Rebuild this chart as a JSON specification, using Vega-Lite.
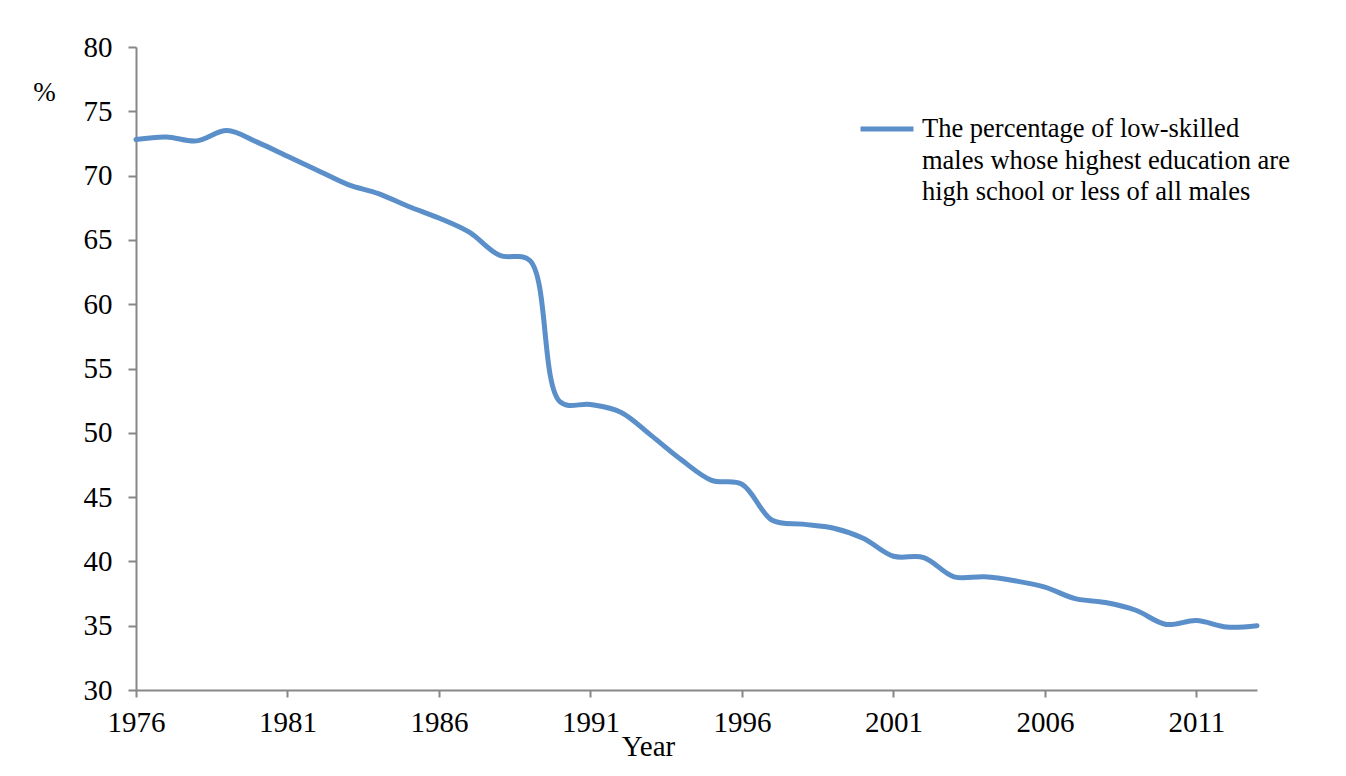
{
  "$schema": "https://vega.github.io/schema/vega-lite/v6.json",
  "autosize": {"type": "none"},
  "width": 1121,
  "height": 643,
  "padding": {"left": 136, "top": 47, "right": 89, "bottom": 86},
  "background": "white",
  "config": {
    "view": {"stroke": null},
    "font": "Liberation Serif",
    "style": {"guide-label": {"lineHeight": 31.5}}
  },
  "data": {
    "values": [
      {"year": 1976, "pct": 72.8, "series": "The percentage of low-skilled males whose highest education are high school or less of all males"},
      {"year": 1977, "pct": 73.0, "series": "The percentage of low-skilled males whose highest education are high school or less of all males"},
      {"year": 1978, "pct": 72.7, "series": "The percentage of low-skilled males whose highest education are high school or less of all males"},
      {"year": 1979, "pct": 73.5, "series": "The percentage of low-skilled males whose highest education are high school or less of all males"},
      {"year": 1980, "pct": 72.6, "series": "The percentage of low-skilled males whose highest education are high school or less of all males"},
      {"year": 1981, "pct": 71.5, "series": "The percentage of low-skilled males whose highest education are high school or less of all males"},
      {"year": 1982, "pct": 70.4, "series": "The percentage of low-skilled males whose highest education are high school or less of all males"},
      {"year": 1983, "pct": 69.3, "series": "The percentage of low-skilled males whose highest education are high school or less of all males"},
      {"year": 1984, "pct": 68.6, "series": "The percentage of low-skilled males whose highest education are high school or less of all males"},
      {"year": 1985, "pct": 67.6, "series": "The percentage of low-skilled males whose highest education are high school or less of all males"},
      {"year": 1986, "pct": 66.7, "series": "The percentage of low-skilled males whose highest education are high school or less of all males"},
      {"year": 1987, "pct": 65.6, "series": "The percentage of low-skilled males whose highest education are high school or less of all males"},
      {"year": 1988, "pct": 63.8, "series": "The percentage of low-skilled males whose highest education are high school or less of all males"},
      {"year": 1989, "pct": 63.4, "series": "The percentage of low-skilled males whose highest education are high school or less of all males"},
      {"year": 1990, "pct": 52.4, "series": "The percentage of low-skilled males whose highest education are high school or less of all males"},
      {"year": 1991, "pct": 52.2, "series": "The percentage of low-skilled males whose highest education are high school or less of all males"},
      {"year": 1992, "pct": 51.6, "series": "The percentage of low-skilled males whose highest education are high school or less of all males"},
      {"year": 1993, "pct": 49.8, "series": "The percentage of low-skilled males whose highest education are high school or less of all males"},
      {"year": 1994, "pct": 47.9, "series": "The percentage of low-skilled males whose highest education are high school or less of all males"},
      {"year": 1995, "pct": 46.3, "series": "The percentage of low-skilled males whose highest education are high school or less of all males"},
      {"year": 1996, "pct": 46.0, "series": "The percentage of low-skilled males whose highest education are high school or less of all males"},
      {"year": 1997, "pct": 43.2, "series": "The percentage of low-skilled males whose highest education are high school or less of all males"},
      {"year": 1998, "pct": 42.9, "series": "The percentage of low-skilled males whose highest education are high school or less of all males"},
      {"year": 1999, "pct": 42.6, "series": "The percentage of low-skilled males whose highest education are high school or less of all males"},
      {"year": 2000, "pct": 41.8, "series": "The percentage of low-skilled males whose highest education are high school or less of all males"},
      {"year": 2001, "pct": 40.4, "series": "The percentage of low-skilled males whose highest education are high school or less of all males"},
      {"year": 2002, "pct": 40.3, "series": "The percentage of low-skilled males whose highest education are high school or less of all males"},
      {"year": 2003, "pct": 38.8, "series": "The percentage of low-skilled males whose highest education are high school or less of all males"},
      {"year": 2004, "pct": 38.8, "series": "The percentage of low-skilled males whose highest education are high school or less of all males"},
      {"year": 2005, "pct": 38.5, "series": "The percentage of low-skilled males whose highest education are high school or less of all males"},
      {"year": 2006, "pct": 38.0, "series": "The percentage of low-skilled males whose highest education are high school or less of all males"},
      {"year": 2007, "pct": 37.1, "series": "The percentage of low-skilled males whose highest education are high school or less of all males"},
      {"year": 2008, "pct": 36.8, "series": "The percentage of low-skilled males whose highest education are high school or less of all males"},
      {"year": 2009, "pct": 36.2, "series": "The percentage of low-skilled males whose highest education are high school or less of all males"},
      {"year": 2010, "pct": 35.1, "series": "The percentage of low-skilled males whose highest education are high school or less of all males"},
      {"year": 2011, "pct": 35.4, "series": "The percentage of low-skilled males whose highest education are high school or less of all males"},
      {"year": 2012, "pct": 34.9, "series": "The percentage of low-skilled males whose highest education are high school or less of all males"},
      {"year": 2013, "pct": 35.0, "series": "The percentage of low-skilled males whose highest education are high school or less of all males"}
    ]
  },
  "mark": {"type": "line", "interpolate": "catmull-rom", "strokeWidth": 5, "strokeCap": "round"},
  "encoding": {
    "x": {
      "field": "year",
      "type": "quantitative",
      "scale": {"domain": [1976, 2013], "nice": false, "zero": false},
      "axis": {
        "title": "Year",
        "values": [1976, 1981, 1986, 1991, 1996, 2001, 2006, 2011],
        "format": "d",
        "grid": false,
        "domainColor": "#878787",
        "domainWidth": 2,
        "tickColor": "#878787",
        "tickWidth": 2,
        "tickSize": 7,
        "labelFlush": false,
        "labelFont": "Liberation Serif",
        "labelFontSize": 29,
        "labelColor": "#000000",
        "labelPadding": 11,
        "titleFont": "Liberation Serif",
        "titleFontSize": 29,
        "titleFontWeight": "normal",
        "titleColor": "#000000",
        "titleAnchor": "start",
        "titleAlign": "center",
        "titleX": 512,
        "titleY": 65,
        "titleBaseline": "alphabetic"
      }
    },
    "y": {
      "field": "pct",
      "type": "quantitative",
      "scale": {"domain": [30, 80], "nice": false, "zero": false},
      "axis": {
        "title": "%",
        "values": [30, 35, 40, 45, 50, 55, 60, 65, 70, 75, 80],
        "grid": false,
        "domainColor": "#878787",
        "domainWidth": 2,
        "tickColor": "#878787",
        "tickWidth": 2,
        "tickSize": 8,
        "labelFlush": false,
        "labelFont": "Liberation Serif",
        "labelFontSize": 29,
        "labelColor": "#000000",
        "labelPadding": 16,
        "titleFont": "Liberation Serif",
        "titleFontSize": 27,
        "titleFontWeight": "normal",
        "titleColor": "#000000",
        "titleAngle": 0,
        "titleAnchor": "start",
        "titleAlign": "center",
        "titleX": -92,
        "titleY": 53,
        "titleBaseline": "alphabetic"
      }
    },
    "color": {
      "field": "series",
      "type": "nominal",
      "scale": {"range": ["#5b8fc9"]},
      "legend": {
        "title": null,
        "orient": "none",
        "legendX": 722,
        "legendY": 53,
        "symbolType": "stroke",
        "symbolSize": 2800,
        "symbolStrokeWidth": 5,
        "labelFont": "Liberation Serif",
        "labelFontSize": 26.5,
        "labelColor": "#000000",
        "labelLimit": 600,
        "labelOffset": 6,
        "labelBaseline": "middle",
        "labelExpr": "['The percentage of low-skilled', 'males whose highest education are', 'high school or less of all males']"
      }
    }
  }
}
